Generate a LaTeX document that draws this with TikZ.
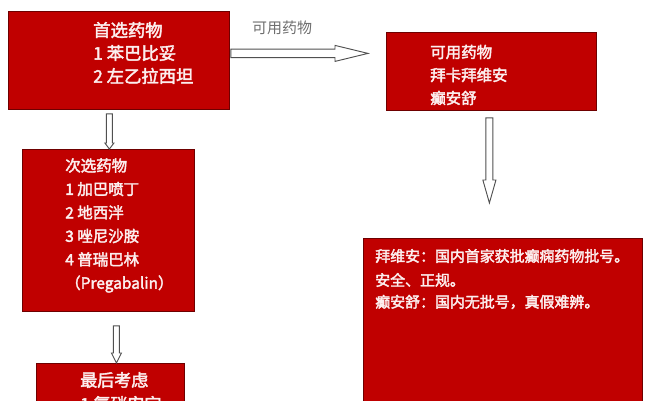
\documentclass[tikz,border=0pt]{standalone}
\usepackage{fontspec}
\setmainfont{Noto Sans CJK SC}[BoldFont={Noto Sans CJK SC}, BoldFeatures={FakeBold=2.5}]
\usetikzlibrary{calc}

\definecolor{boxred}{RGB}{192,0,0}
\definecolor{boxline}{RGB}{110,0,0}
\definecolor{boxtext}{RGB}{252,238,238}
\definecolor{arrowline}{RGB}{80,80,80}
\definecolor{labelgray}{RGB}{110,110,110}

% hollow block arrows: #1 start, #2 tip, #3 half shaft, #4 half head, #5 head length
\newcommand{\blockdown}[5]{%
  \draw[blockarrow] let \p1=(#1), \p2=(#2) in
    (\x1-#3,\y1) -- (\x1-#3,\y2+#5) -- (\x1-#4,\y2+#5) -- (\x1,\y2)
    -- (\x1+#4,\y2+#5) -- (\x1+#3,\y2+#5) -- (\x1+#3,\y1) -- cycle;}
\newcommand{\blockright}[5]{%
  \draw[blockarrow] let \p1=(#1), \p2=(#2) in
    (\x1,\y1+#3) -- (\x2-#5,\y1+#3) -- (\x2-#5,\y1+#4) -- (\x2,\y1)
    -- (\x2-#5,\y1-#4) -- (\x2-#5,\y1-#3) -- (\x1,\y1-#3) -- cycle;}

\begin{document}
\begin{tikzpicture}[x=0.75pt, y=-0.75pt,
    drugbox/.style={draw=boxline, fill=boxred, line width=0.6pt, anchor=north west, inner sep=0pt},
    drugtext/.style={text=boxtext, anchor=west, align=left, inner sep=0pt},
    blockarrow/.style={draw=arrowline, fill=white, line width=0.7pt, line join=miter}]
    \useasboundingbox (0,0) rectangle (660,400);
    \clip (0,0) rectangle (660,400);

    % Boxes
    \node[drugbox, minimum width=165.75pt, minimum height=73.5pt] (first) at (8,11) {};
    \node[drugbox, minimum width=157.5pt, minimum height=58.5pt] (avail) at (386,32) {};
    \node[drugbox, minimum width=129pt, minimum height=121.5pt] (second) at (22,149) {};
    \node[drugbox, minimum width=209.25pt, minimum height=136.5pt] (note) at (363,238) {};
    \node[drugbox, minimum width=111pt, minimum height=45pt] (last) at (36,363) {};

    % Texts
    \node[drugtext, font=\bfseries\fontsize{13}{17.25}\selectfont] (firsttxt) at (93,53)
        {首选药物\\1 苯巴比妥\\2 左乙拉西坦};
    \node[drugtext, font=\bfseries\fontsize{11.6}{17.25}\selectfont] (availtxt) at (430,75)
        {可用药物\\拜卡拜维安\\癫安舒};
    \node[drugtext, font=\bfseries\fontsize{11.6}{17.6}\selectfont] (secondtxt) at (65,225.5)
        {次选药物\\1 加巴喷丁\\2 地西泮\\3 唑尼沙胺\\4 普瑞巴林\\（Pregabalin）};
    \node[drugtext, font=\bfseries\fontsize{11.2}{13}\selectfont] (notea) at (375,256) {拜维安：国内首家获批癫痫药物批号。};
    \node[drugtext, font=\bfseries\fontsize{11.2}{13}\selectfont] (noteb) at (375,280) {安全、正规。};
    \node[drugtext, font=\bfseries\fontsize{11.2}{13}\selectfont] (notec) at (375,302) {癫安舒：国内无批号，真假难辨。};
    \node[drugtext, font=\bfseries\fontsize{12.75}{18}\selectfont] (lasttxt) at (80,392)
        {最后考虑\\1 氯硝安定};
    \node[text=labelgray, inner sep=0pt, font=\fontsize{11.25}{13}\selectfont] (availlbl) at (282,28) {可用药物};

    % Arrows
    \blockright{$(first.east)+(1,-7)$}{$(avail.west)+(-18,0)$}{3.2pt}{6pt}{24.75pt}
    \blockdown{$(first.south)+(-9.5,4)$}{second.north}{2.25pt}{3.4pt}{4.5pt}
    \blockdown{$(avail.south)+(-2,7)$}{$(note.north)+(0,-35)$}{2.6pt}{4.9pt}{17.25pt}
    \blockdown{$(second.south)+(8,14)$}{last.north}{2.25pt}{3.75pt}{7.5pt}
\end{tikzpicture}
\end{document}
